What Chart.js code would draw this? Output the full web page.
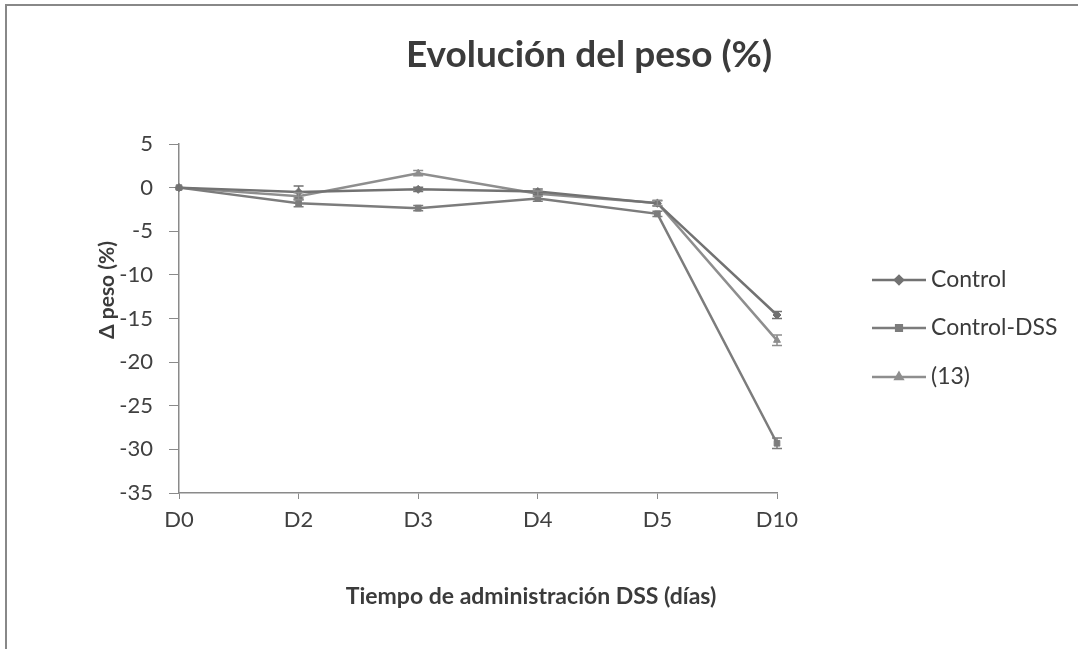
<!DOCTYPE html>
<html>
<head>
<meta charset="utf-8">
<script src="https://cdn.jsdelivr.net/npm/chart.js@4/dist/chart.umd.min.js"></script>
<style>
  html, body { margin: 0; padding: 0; background: #ffffff; }
  canvas { display: block; }
</style>
</head>
<body>
<canvas id="myChart" width="1078" height="649"></canvas>
<script>
const categories = ["D0", "D2", "D3", "D4", "D5", "D10"];
const seriesNames = ["Control", "Control-DSS", "(13)"];
const controlValues = [0, -0.5, -0.2, -0.45, -1.8, -14.6];
const controlDssValues = [0, -1.8, -2.35, -1.25, -3.0, -29.3];
const group13Values = [0, -1.0, 1.65, -0.7, -1.75, -17.5];
const controlErrors = [0, 0.7, 0.25, 0.3, 0.3, 0.4];
const controlDssErrors = [0, 0.4, 0.3, 0.3, 0.3, 0.6];
const group13Errors = [0, 0.4, 0.3, 0.3, 0.3, 0.6];
const yTicks = [5, 0, -5, -10, -15, -20, -25, -30, -35];

const FONT = "Lato, 'Open Sans', sans-serif";
const errorSets = [controlErrors, controlDssErrors, group13Errors];

// frame + white background
const framePlugin = {
    id: "frame",
    beforeDraw(chart) {
        const ctx = chart.ctx;
        ctx.save();
        ctx.fillStyle = "#ffffff";
        ctx.fillRect(0, 0, chart.width, chart.height);
        ctx.strokeStyle = "#888888";
        ctx.lineWidth = 2;
        ctx.beginPath();
        ctx.moveTo(6, chart.height);
        ctx.lineTo(6, 5);
        ctx.lineTo(chart.width, 5);
        ctx.stroke();
        ctx.restore();
    },
};

// error bars drawn through the scales
const errorBarPlugin = {
    id: "errorBars",
    afterDatasetsDraw(chart) {
        const ctx = chart.ctx;
        const yScale = chart.scales.y;
        ctx.save();
        chart.data.datasets.forEach((ds, i) => {
            const meta = chart.getDatasetMeta(i);
            ctx.strokeStyle = ds.borderColor;
            ctx.lineWidth = 1.5;
            meta.data.forEach((pt, j) => {
                const e = errorSets[i][j];
                if (!e) return;
                const v = ds.data[j];
                const yTop = yScale.getPixelForValue(v + e);
                const yBot = yScale.getPixelForValue(v - e);
                ctx.beginPath();
                ctx.moveTo(pt.x, yTop);
                ctx.lineTo(pt.x, yBot);
                ctx.moveTo(pt.x - 5, yTop);
                ctx.lineTo(pt.x + 5, yTop);
                ctx.moveTo(pt.x - 5, yBot);
                ctx.lineTo(pt.x + 5, yBot);
                ctx.stroke();
            });
        });
        ctx.restore();
    },
};

// titles and legend
const textPlugin = {
    id: "texts",
    afterDraw(chart) {
        const ctx = chart.ctx;
        ctx.save();
        ctx.fillStyle = "#3b3b3b";
        ctx.textAlign = "center";
        ctx.textBaseline = "alphabetic";
        ctx.font = "bold 37px " + FONT;
        ctx.fillText("Evolución del peso (%)", 589, 67);

        ctx.font = "bold 23px " + FONT;
        ctx.fillText("Tiempo de administración DSS (días)", 531, 604);

        ctx.save();
        ctx.translate(107, 290);
        ctx.rotate(-Math.PI / 2);
        ctx.textBaseline = "middle";
        ctx.font = "bold 21px " + FONT;
        ctx.fillText("Δ peso (%)", 0, 0);
        ctx.restore();

        // legend
        const rows = [280, 328, 377];
        chart.data.datasets.forEach((ds, i) => {
            const y = rows[i];
            ctx.strokeStyle = ds.borderColor;
            ctx.lineWidth = 2.5;
            ctx.beginPath();
            ctx.moveTo(872, y);
            ctx.lineTo(926, y);
            ctx.stroke();
            ctx.fillStyle = ds.pointBackgroundColor;
            ctx.strokeStyle = ds.pointBorderColor;
            Chart.helpers.drawPoint(ctx, {
                pointStyle: ds.pointStyle,
                radius: ds.pointRadius,
                borderWidth: 1,
                rotation: 0,
            }, 899, y);
            ctx.fillStyle = "#3b3b3b";
            ctx.textAlign = "left";
            ctx.textBaseline = "middle";
            ctx.font = "23px " + FONT;
            ctx.fillText(ds.label, 931, y);
        });
        ctx.restore();
    },
};

function makeSet(label, values, color, style, radius) {
    return {
        label: label,
        data: values,
        borderColor: color,
        backgroundColor: color,
        borderWidth: 2.5,
        pointStyle: style,
        pointRadius: radius,
        pointBackgroundColor: color,
        pointBorderColor: color,
        pointBorderWidth: 1,
        tension: 0,
    };
}

const ctx = document.getElementById("myChart").getContext("2d");
const myChart = new Chart(ctx, {
    type: "line",
    data: {
        labels: categories,
        datasets: [
            makeSet(seriesNames[0], controlValues, "#727272", "rectRot", 4),
            makeSet(seriesNames[1], controlDssValues, "#7c7c7c", "rect", 4),
            makeSet(seriesNames[2], group13Values, "#8e8e8e", "triangle", 4),
        ],
    },
    options: {
        responsive: false,
        animation: false,
        layout: {
            padding: { left: 0, right: 301, top: 144, bottom: 116 },
        },
        plugins: {
            legend: { display: false },
            title: { display: false },
            tooltip: { enabled: false },
        },
        scales: {
            x: {
                type: "category",
                offset: false,
                afterFit(scale) { scale.height = 40; },
                grid: {
                    drawOnChartArea: false,
                    drawTicks: true,
                    tickLength: 6,
                    color: "#8a8a8a",
                },
                border: { display: true, color: "#8a8a8a", width: 1.5 },
                ticks: {
                    color: "#404040",
                    font: { family: FONT, size: 22 },
                    padding: 8,
                    maxRotation: 0,
                    autoSkip: false,
                },
            },
            y: {
                min: -35,
                max: 5,
                afterFit(scale) { scale.width = 179; },
                afterBuildTicks(scale) {
                    scale.ticks = yTicks.map((v) => ({ value: v }));
                },
                grid: {
                    drawOnChartArea: false,
                    drawTicks: true,
                    tickLength: 10,
                    color: "#8a8a8a",
                },
                border: { display: true, color: "#8a8a8a", width: 1.5 },
                ticks: {
                    color: "#404040",
                    font: { family: FONT, size: 22 },
                    padding: 16,
                },
            },
        },
    },
    plugins: [framePlugin, errorBarPlugin, textPlugin],
});
</script>
</body>
</html>
